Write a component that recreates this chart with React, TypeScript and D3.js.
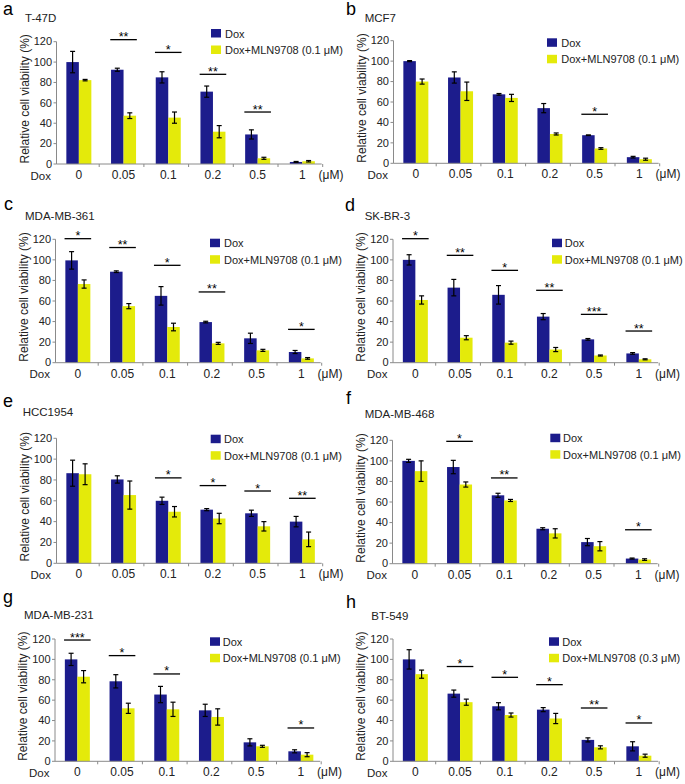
import React from "react";
import * as d3 from "d3";

const categories = ["0", "0.05", "0.1", "0.2", "0.5", "1"];
const yTicks = [0, 20, 40, 60, 80, 100, 120];

// Panel a: T-47D
const doxA = [100, 92.5, 85, 71, 29, 2];
const doxErrA = [10.5, 1.5, 5.5, 5.5, 4.5, 0.5];
const mlnA = [82.3, 47.4, 45.5, 31.7, 5.6, 2.7];
const mlnErrA = [0.7, 2.8, 5.5, 6, 1, 0.7];
const sigA: [number, string, number][] = [[1, "**", 122], [2, "*", 109.5], [3, "**", 88], [4, "**", 51]];

// Panel b: MCF7
const doxB = [100, 84, 67.5, 54, 27.5, 6];
const doxErrB = [0.5, 5.5, 0.8, 4.5, 0.3, 0.8];
const mlnB = [80, 70.5, 64, 28.7, 14.5, 4];
const mlnErrB = [2.5, 9, 3.5, 1, 0.8, 1];
const sigB: [number, string, number][] = [[4, "*", 48]];

// Panel c: MDA-MB-361
const doxC = [99.5, 88.5, 65, 39.5, 23.7, 10.4];
const doxErrC = [8.5, 0.8, 9, 0.8, 5, 1.5];
const mlnC = [76.5, 55, 34.7, 18.8, 12, 4.2];
const mlnErrC = [4, 2.5, 3.7, 1, 1, 0.8];
const sigC: [number, string, number][] = [[0, "*", 120.6], [1, "**", 112], [2, "*", 94.7], [3, "**", 68.8], [5, "*", 32.4]];

// Panel d: SK-BR-3
const doxD = [100, 73, 66, 44.8, 22.7, 9];
const doxErrD = [5, 8, 9, 3, 0.8, 0.8];
const mlnD = [61, 24.3, 19.5, 12.8, 7, 3.3];
const mlnErrD = [4, 2, 1.5, 2, 0.5, 0.5];
const sigD: [number, string, number][] = [[0, "*", 120.6], [1, "**", 104.4], [2, "*", 89.8], [3, "**", 70.4], [4, "***", 47], [5, "**", 30.8]];

// Panel e: HCC1954
const doxE = [86.5, 80.5, 60, 51.5, 48, 40];
const doxErrE = [12.5, 3.5, 3.5, 1, 3, 5];
const mlnE = [85.5, 65.5, 49.5, 43, 35.5, 23];
const mlnErrE = [10, 13.5, 5, 5, 4.5, 7];
const sigE: [number, string, number][] = [[2, "*", 82], [3, "*", 74.6], [4, "*", 69.4], [5, "**", 62.4]];

// Panel f: MDA-MB-468
const doxF = [100, 94, 66.5, 34, 21, 5];
const doxErrF = [1.5, 6.5, 2, 1, 3.5, 0.5];
const mlnF = [90, 77, 61.5, 29.5, 17, 4];
const mlnErrF = [10, 2.5, 1, 4.5, 4.5, 0.8];
const sigF: [number, string, number][] = [[1, "*", 119], [2, "**", 83.4], [5, "*", 33]];

// Panel g: MDA-MB-231
const doxG = [100, 78.5, 65.5, 50, 18.6, 9.8];
const doxErrG = [6, 6.5, 8, 6, 3.5, 1.5];
const mlnG = [83, 52, 51, 43.5, 14.7, 6.5];
const mlnErrG = [6, 5, 7, 8, 1, 2];
const sigG: [number, string, number][] = [[0, "***", 119], [1, "*", 103.7], [2, "*", 85.7], [5, "*", 32.7]];

// Panel h: BT-549
const doxH = [100, 66.4, 54, 50.7, 21, 14.7];
const doxErrH = [9.5, 3.5, 3.5, 2, 2, 4.5];
const mlnH = [85.5, 58, 45.4, 42, 13.7, 5.5];
const mlnErrH = [4, 3, 2, 5, 1.5, 1.5];
const sigH: [number, string, number][] = [[1, "*", 93], [2, "*", 82.4], [3, "*", 75.2], [4, "**", 52.3], [5, "*", 37.6]];

const panels = [
  { letter: "a", title: "T-47D", legend: "Dox+MLN9708 (0.1 μM)", dox: doxA, doxErr: doxErrA, mln: mlnA, mlnErr: mlnErrA, sig: sigA,
    x0: 56.5, top: 41.7, bottom: 164, lx: 3, ly: 15, tx: 25, ty: 21.7, gx: 211, gy: 29, gtx: 225 },
  { letter: "b", title: "MCF7", legend: "Dox+MLN9708 (0.1 μM)", dox: doxB, doxErr: doxErrB, mln: mlnB, mlnErr: mlnErrB, sig: sigB,
    x0: 393.5, top: 40.7, bottom: 163.3, lx: 346, ly: 15, tx: 364.7, ty: 21.7, gx: 547, gy: 38.3, gtx: 561.3 },
  { letter: "c", title: "MDA-MB-361", legend: "Dox+MLN9708 (0.1 μM)", dox: doxC, doxErr: doxErrC, mln: mlnC, mlnErr: mlnErrC, sig: sigC,
    x0: 55.5, top: 239.3, bottom: 362.7, lx: 4, ly: 209.5, tx: 25, ty: 220, gx: 210, gy: 238.7, gtx: 224 },
  { letter: "d", title: "SK-BR-3", legend: "Dox+MLN9708 (0.1 μM)", dox: doxD, doxErr: doxErrD, mln: mlnD, mlnErr: mlnErrD, sig: sigD,
    x0: 393, top: 239.3, bottom: 362.7, lx: 345, ly: 211, tx: 364.7, ty: 220, gx: 552, gy: 238.7, gtx: 564.7 },
  { letter: "e", title: "HCC1954", legend: "Dox+MLN9708 (0.1 μM)", dox: doxE, doxErr: doxErrE, mln: mlnE, mlnErr: mlnErrE, sig: sigE,
    x0: 56.5, top: 438.3, bottom: 563.3, lx: 3, ly: 407, tx: 22.7, ty: 416, gx: 210.7, gy: 434.7, gtx: 224 },
  { letter: "f", title: "MDA-MB-468", legend: "Dox+MLN9708 (0.1 μM)", dox: doxF, doxErr: doxErrF, mln: mlnF, mlnErr: mlnErrF, sig: sigF,
    x0: 392.5, top: 440.3, bottom: 563.7, lx: 346, ly: 404, tx: 364.7, ty: 418, gx: 550.3, gy: 433.7, gtx: 563 },
  { letter: "g", title: "MDA-MB-231", legend: "Dox+MLN9708 (0.1 μM)", dox: doxG, doxErr: doxErrG, mln: mlnG, mlnErr: mlnErrG, sig: sigG,
    x0: 55, top: 639, bottom: 761.3, lx: 3, ly: 603, tx: 24, ty: 618.7, gx: 210, gy: 637.3, gtx: 222.7 },
  { letter: "h", title: "BT-549", legend: "Dox+MLN9708 (0.3 μM)", dox: doxH, doxErr: doxErrH, mln: mlnH, mlnErr: mlnErrH, sig: sigH,
    x0: 393, top: 639, bottom: 761.3, lx: 346, ly: 608, tx: 371.3, ty: 619.7, gx: 549, gy: 637.3, gtx: 562.3 },
];

const BLUE = "#1c1c8c";
const YELLOW = "#e4ea0a";
const AXIS = "#8a8a8a";
const TEXT = "#222";
const FONT = "'Liberation Sans', Arial, sans-serif";
const BAND = 44.7;
const BARW = 12.5;

function ErrorBar({ x, y, e, yScale }: any) {
  const y1 = yScale(y + e);
  const y2 = yScale(Math.max(0, y - e));
  return (
    <g stroke="#000" strokeWidth={1.2}>
      <line x1={x} x2={x} y1={y1} y2={y2} />
      <line x1={x - 2.5} x2={x + 2.5} y1={y1} y2={y1} />
      <line x1={x - 2.5} x2={x + 2.5} y1={y2} y2={y2} />
    </g>
  );
}

function Panel({ p }: any) {
  const x = d3.scaleBand<string>().domain(categories).range([p.x0, p.x0 + BAND * categories.length]).padding(0);
  const y = d3.scaleLinear().domain([0, 120]).range([p.bottom, p.top]);
  const cx = (c: string) => (x(c) as number) + x.bandwidth() / 2;
  const axisEnd = p.x0 + BAND * categories.length - 3;
  return (
    <g fontFamily={FONT}>
      <text x={p.lx} y={p.ly} fontSize={18} fill="#000">{p.letter}</text>
      <text x={p.tx} y={p.ty} fontSize={11.5} fill={TEXT}>{p.title}</text>
      {categories.map((c, i) => (
        <g key={c}>
          <rect x={cx(c) - BARW} y={y(p.dox[i])} width={BARW} height={p.bottom - y(p.dox[i])} fill={BLUE} />
          <rect x={cx(c)} y={y(p.mln[i])} width={BARW} height={p.bottom - y(p.mln[i])} fill={YELLOW} />
          <ErrorBar x={cx(c) - BARW / 2} y={p.dox[i]} e={p.doxErr[i]} yScale={y} />
          <ErrorBar x={cx(c) + BARW / 2} y={p.mln[i]} e={p.mlnErr[i]} yScale={y} />
        </g>
      ))}
      <line x1={p.x0} x2={p.x0} y1={p.top} y2={p.bottom} stroke={AXIS} strokeWidth={1} />
      <line x1={p.x0} x2={axisEnd} y1={p.bottom} y2={p.bottom} stroke={AXIS} strokeWidth={1} />
      {yTicks.map((t) => (
        <g key={t}>
          <line x1={p.x0 - 3} x2={p.x0} y1={y(t)} y2={y(t)} stroke={AXIS} />
          <text x={p.x0 - 4.5} y={y(t)} dy="0.34em" textAnchor="end" fontSize={11} fill={TEXT}>{t}</text>
        </g>
      ))}
      {categories.map((c, i) => (
        <line key={"t" + c} x1={p.x0 + BAND * (i + 1) - 2} x2={p.x0 + BAND * (i + 1) - 2} y1={p.bottom} y2={p.bottom + 3} stroke={AXIS} />
      ))}
      {categories.map((c) => (
        <text key={"l" + c} x={cx(c)} y={p.bottom + 15} textAnchor="middle" fontSize={12} fill={TEXT}>{c}</text>
      ))}
      <text x={p.x0 - 26} y={p.bottom + 15.5} fontSize={11.5} fill={TEXT}>Dox</text>
      <text x={p.x0 + 262} y={p.bottom + 15} fontSize={12} fill={TEXT}>(μM)</text>
      <text transform={`translate(${p.x0 - 28},${(p.top + p.bottom) / 2 - 4}) rotate(-90)`} textAnchor="middle" fontSize={12} fill={TEXT}>
        Relative cell viability (%)
      </text>
      {p.sig.map(([ci, lab, v]: [number, string, number]) => {
        const c = categories[ci];
        return (
          <g key={"s" + ci}>
            <line x1={cx(c) - 13.3} x2={cx(c) + 13.3} y1={y(v)} y2={y(v)} stroke="#000" strokeWidth={1.3} />
            <text x={cx(c)} y={y(v) + 1.5} textAnchor="middle" fontSize={12.5} fill="#000">{lab}</text>
          </g>
        );
      })}
      <rect x={p.gx} y={p.gy} width={10} height={8.5} fill={BLUE} />
      <text x={p.gtx} y={p.gy + 8.5} fontSize={11} fill={TEXT}>Dox</text>
      <rect x={p.gx} y={p.gy + 16.5} width={10} height={8.5} fill={YELLOW} />
      <text x={p.gtx} y={p.gy + 25} fontSize={11} fill={TEXT}>{p.legend}</text>
    </g>
  );
}

export default function App() {
  return (
    <svg width={685} height={784} style={{ position: "absolute", left: 0, top: 0, background: "#fff" }}>
      <rect x={0} y={0} width={685} height={784} fill="#fff" />
      {panels.map((p) => (
        <Panel key={p.letter} p={p} />
      ))}
    </svg>
  );
}
